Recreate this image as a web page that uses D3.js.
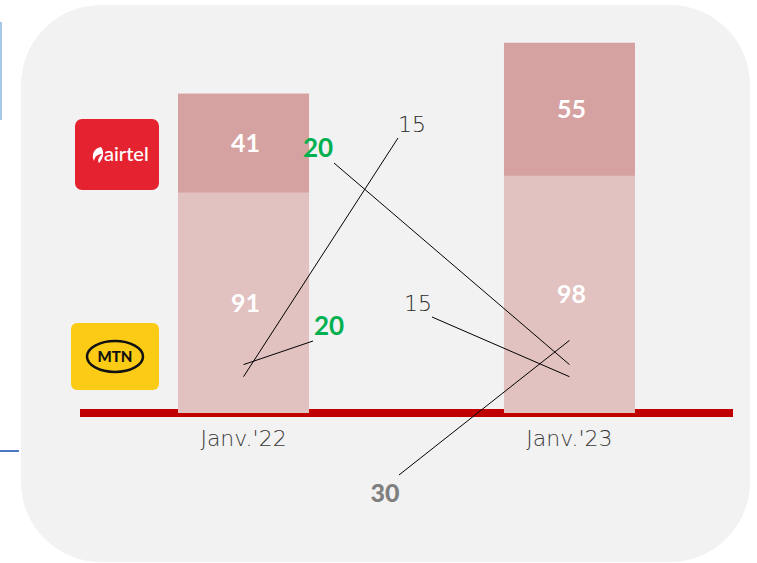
<!DOCTYPE html>
<html>
<head>
<meta charset="utf-8">
<script src="https://cdn.jsdelivr.net/npm/d3@7/dist/d3.min.js"></script>
<style>
  html, body { margin: 0; padding: 0; background: #ffffff; }
  svg { display: block; }
</style>
</head>
<body>
<svg id="chart" width="757" height="563"></svg>
<script>
// ---- DATA ----
const categories = ["Janv.'22", "Janv.'23"];
const mtnValues = [91, 98];      // bottom segment
const airtelValues = [41, 55];   // top segment
// point annotations (value markers with pushed-out labels)
const annotCategories = ["Janv.'22", "Janv.'22", "Janv.'23", "Janv.'23", "Janv.'23"];
const annotValues = [15, 20, 20, 15, 30];
const annotLabels = ["15", "20", "20", "15", "30"];

// ---- LAYOUT / STYLE (not data) ----
const FONT = "Lato, 'Open Sans', 'DejaVu Sans', sans-serif";
const THIN = "'DejaVu Sans', sans-serif";
const annotLayout = [
  { lx: 412, ly: 132, sx: 398, sy: 138, fill: "#2B2B2B", weight: 200, size: 22, font: THIN },
  { lx: 329, ly: 335, sx: 313, sy: 341, fill: "#00B050", weight: 700, size: 26, font: FONT },
  { lx: 318, ly: 157, sx: 334, sy: 163, fill: "#00B050", weight: 700, size: 26, font: FONT },
  { lx: 418, ly: 311, sx: 432, sy: 317, fill: "#2B2B2B", weight: 200, size: 22, font: THIN },
  { lx: 385, ly: 502, sx: 399, sy: 475, fill: "#7F7F7F", weight: 900, size: 25, font: FONT }
];

const svg = d3.select("#chart");

// decorative fragments at the left edge
svg.append("line").attr("x1", 1).attr("x2", 1).attr("y1", 22).attr("y2", 120)
  .attr("stroke", "#A9C8E8").attr("stroke-width", 2);
svg.append("line").attr("x1", 0).attr("x2", 19).attr("y1", 451).attr("y2", 451)
  .attr("stroke", "#4A78C0").attr("stroke-width", 2);

// background panel
svg.append("rect").attr("x", 21).attr("y", 5).attr("width", 729).attr("height", 557)
  .attr("rx", 80).attr("ry", 80).attr("fill", "#F2F2F2");

// scales
const x = d3.scaleBand().domain(categories).range([178, 635]).paddingInner(0.598).paddingOuter(0);
const y = d3.scaleLinear().domain([0, 160]).range([413, 413 - 160 * 2.42]);

// baseline
svg.append("line").attr("x1", 80).attr("x2", 733).attr("y1", y(0)).attr("y2", y(0))
  .attr("stroke", "#C00000").attr("stroke-width", 8);

// stacked bars
const stackData = categories.map((c, i) => ({ cat: c, mtn: mtnValues[i], airtel: airtelValues[i] }));
const series = d3.stack().keys(["mtn", "airtel"])(stackData);
const colors = { mtn: "#E2C1C1", airtel: "#D5A1A1" };

const g = svg.append("g");
series.forEach(s => {
  g.selectAll(null).data(s).enter().append("rect")
    .attr("x", d => x(d.data.cat))
    .attr("width", x.bandwidth())
    .attr("y", d => y(d[1]))
    .attr("height", d => y(d[0]) - y(d[1]))
    .attr("fill", colors[s.key]);
  g.selectAll(null).data(s).enter().append("text")
    .attr("x", d => x(d.data.cat) + x.bandwidth() / 2 + 2)
    .attr("y", d => (y(d[0]) + y(d[1])) / 2 + 9)
    .attr("text-anchor", "middle")
    .attr("font-family", FONT).attr("font-weight", 700).attr("font-size", 25)
    .attr("fill", "#ffffff")
    .text(d => d.data[s.key]);
});

// x axis labels
const xAxis = d3.axisBottom(x).tickSize(0).tickPadding(0);
const ax = svg.append("g").attr("transform", `translate(0, ${y(0)})`).call(xAxis);
ax.select(".domain").remove();
ax.selectAll("text")
  .attr("y", 33).attr("dy", 0)
  .attr("font-family", THIN).attr("font-size", 22).attr("font-weight", 200)
  .attr("fill", "#3A3A3A");

// annotations: leader lines + labels
annotValues.forEach((v, i) => {
  const L = annotLayout[i];
  const px = x(annotCategories[i]) + x.bandwidth() / 2;
  const py = y(v);
  svg.append("line").attr("x1", L.sx).attr("y1", L.sy).attr("x2", px).attr("y2", py)
    .attr("stroke", "#000000").attr("stroke-width", 1);
  svg.append("text").attr("x", L.lx).attr("y", L.ly).attr("text-anchor", "middle")
    .attr("font-family", L.font).attr("font-size", L.size).attr("font-weight", L.weight)
    .attr("fill", L.fill).text(annotLabels[i]);
});

// logos
const airtel = svg.append("g");
airtel.append("rect").attr("x", 75).attr("y", 119).attr("width", 84).attr("height", 71)
  .attr("rx", 7).attr("fill", "#E52330");
airtel.append("path")
  .attr("d", "M101,147 C94,148 91,155 94,161 C95,156 98,154 102,154 C99,157 97,160 99,163 C103,159 105,152 101,147 Z")
  .attr("fill", "#ffffff");
airtel.append("text").attr("x", 104).attr("y", 161).attr("font-family", FONT)
  .attr("font-size", 20).attr("font-weight", 500).attr("fill", "#ffffff").text("airtel");

const mtn = svg.append("g");
mtn.append("rect").attr("x", 71).attr("y", 323).attr("width", 88).attr("height", 67)
  .attr("rx", 6).attr("fill", "#FCCB16");
mtn.append("ellipse").attr("cx", 115).attr("cy", 356.5).attr("rx", 28).attr("ry", 15.5)
  .attr("fill", "none").attr("stroke", "#111111").attr("stroke-width", 2.5);
mtn.append("text").attr("x", 115).attr("y", 362).attr("text-anchor", "middle")
  .attr("font-family", FONT).attr("font-size", 15).attr("font-weight", 900)
  .attr("fill", "#111111").text("MTN");
</script>
</body>
</html>
